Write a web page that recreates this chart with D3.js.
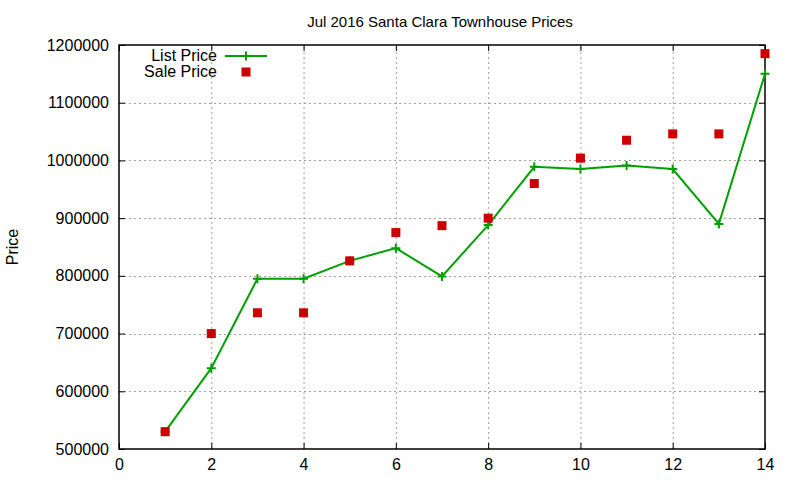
<!DOCTYPE html>
<html>
<head>
<meta charset="utf-8">
<script src="https://cdn.jsdelivr.net/npm/d3@7"></script>
<style>
  body { margin: 0; background: #fff; }
  svg text { font-family: "Liberation Sans", Arial, sans-serif; fill: #000; }
</style>
</head>
<body>
<div id="chart"></div>
<script>
// listing number within Jul 2016
var sale_idx = [1, 2, 3, 4, 5, 6, 7, 8, 9, 10, 11, 12, 13, 14];
var list_price = [530000, 640000, 795000, 795000, 826000, 848000, 799000, 888000, 989000, 985000, 991000, 985000, 890000, 1150000];
var sale_price = [530000, 700000, 736000, 736000, 826000, 875000, 887000, 900000, 960000, 1004000, 1035000, 1046000, 1046000, 1185000];
var x_ticks = [0, 2, 4, 6, 8, 10, 12, 14];
var y_ticks = [500000, 600000, 700000, 800000, 900000, 1000000, 1100000, 1200000];

var chart_title = "Jul 2016 Santa Clara Townhouse Prices";
var list_color = "#00a000";
var sale_color = "#cc0000";

var width = 800;
var height = 480;
var margin = ({top: 45, right: 35, bottom: 31, left: 119});

var svg = d3.select("#chart")
    .append("svg")
    .attr("width", width)
    .attr("height", height);

var x = d3.scaleLinear()
    .domain([0, 14])
    .range([margin.left, width - margin.right]);
var y = d3.scaleLinear()
    .domain([500000, 1200000])
    .range([height - margin.bottom, margin.top]);

////////////////////////////////////////////////////////////////////////////////
// grid (dashed grey) - skip the ones on the border
var grid = svg.append("g")
    .attr("stroke", "#a0a0a0")
    .attr("stroke-width", 1)
    .attr("stroke-dasharray", "2,3");
grid.selectAll(".gx")
    .data(x_ticks.filter(function(d) { return d > 0 && d < 14; }))
    .enter().append("line")
    .attr("x1", function(d) { return x(d) + 0.5; })
    .attr("x2", function(d) { return x(d) + 0.5; })
    .attr("y1", y(500000))
    .attr("y2", y(1200000));
grid.selectAll(".gy")
    .data(y_ticks.filter(function(d) { return d > 500000 && d < 1200000; }))
    .enter().append("line")
    .attr("x1", x(0))
    .attr("x2", x(14))
    .attr("y1", function(d) { return Math.round(y(d)) + 0.5; })
    .attr("y2", function(d) { return Math.round(y(d)) + 0.5; });

// axes, ticks inward like gnuplot, mirrored
var ax_bottom = svg.append("g")
    .attr("transform", "translate(0," + (height - margin.bottom) + ")")
    .call(d3.axisBottom(x).tickValues(x_ticks).tickSize(-6).tickPadding(10).tickSizeOuter(0));
var ax_top = svg.append("g")
    .attr("transform", "translate(0," + margin.top + ")")
    .call(d3.axisTop(x).tickValues(x_ticks).tickSize(-6).tickFormat("").tickSizeOuter(0));
var ax_left = svg.append("g")
    .attr("transform", "translate(" + margin.left + ",0)")
    .call(d3.axisLeft(y).tickValues(y_ticks).tickSize(-6).tickPadding(10).tickFormat(d3.format("d")).tickSizeOuter(0));
var ax_right = svg.append("g")
    .attr("transform", "translate(" + (width - margin.right) + ",0)")
    .call(d3.axisRight(y).tickValues(y_ticks).tickSize(-6).tickFormat("").tickSizeOuter(0));

[ax_bottom, ax_top, ax_left, ax_right].forEach(function(g) {
    g.select(".domain").remove();
    g.selectAll("line").attr("stroke", "#000");
    g.selectAll("text")
        .style("font-family", "'Liberation Sans', Arial, sans-serif")
        .style("font-size", "16px")
        .attr("fill", "#000");
});

svg.append("rect")
    .attr("x", x(0))
    .attr("y", y(1200000))
    .attr("width", x(14) - x(0))
    .attr("height", y(500000) - y(1200000))
    .attr("fill", "none")
    .attr("stroke", "#000")
    .attr("stroke-width", 1.5);

////////////////////////////////////////////////////////////////////////////////
// list price line + plus markers
var line = d3.line()
    .x(function(d, i) { return x(sale_idx[i]); })
    .y(function(d) { return y(d); });

svg.append("path")
    .datum(list_price)
    .attr("fill", "none")
    .attr("stroke", list_color)
    .attr("stroke-width", 2)
    .attr("d", line);

var draw_plus = function(g, cx, cy) {
    g.append("path")
        .attr("d", "M" + (cx - 4.5) + "," + cy + "H" + (cx + 4.5) + "M" + cx + "," + (cy - 4.5) + "V" + (cy + 4.5))
        .attr("stroke", list_color)
        .attr("stroke-width", 2)
        .attr("fill", "none");
};
var marks = svg.append("g");
list_price.forEach(function(d, i) {
    draw_plus(marks, x(sale_idx[i]), y(d));
});

// sale price squares (drawn last, on top)
svg.append("g")
    .selectAll("rect")
    .data(sale_price)
    .enter().append("rect")
    .attr("x", function(d, i) { return x(sale_idx[i]) - 4.5; })
    .attr("y", function(d) { return y(d) - 4.5; })
    .attr("width", 9)
    .attr("height", 9)
    .attr("fill", sale_color);

////////////////////////////////////////////////////////////////////////////////
// title, y label
svg.append("text")
    .attr("x", 440)
    .attr("y", 27)
    .attr("text-anchor", "middle")
    .style("font-size", "15px")
    .text(chart_title);

svg.append("text")
    .attr("transform", "translate(18," + ((margin.top + height - margin.bottom) / 2) + ") rotate(-90)")
    .attr("text-anchor", "middle")
    .style("font-size", "16px")
    .text("Price");

// legend
var legend = svg.append("g");
legend.append("text")
    .attr("x", 217)
    .attr("y", 61)
    .attr("text-anchor", "end")
    .style("font-size", "16px")
    .text("List Price");
legend.append("line")
    .attr("x1", 225).attr("x2", 267)
    .attr("y1", 56).attr("y2", 56)
    .attr("stroke", list_color)
    .attr("stroke-width", 2);
draw_plus(legend, 246, 56);
legend.append("text")
    .attr("x", 217)
    .attr("y", 77)
    .attr("text-anchor", "end")
    .style("font-size", "16px")
    .text("Sale Price");
legend.append("rect")
    .attr("x", 241.5).attr("y", 67.5)
    .attr("width", 9).attr("height", 9)
    .attr("fill", sale_color);
</script>
</body>
</html>
